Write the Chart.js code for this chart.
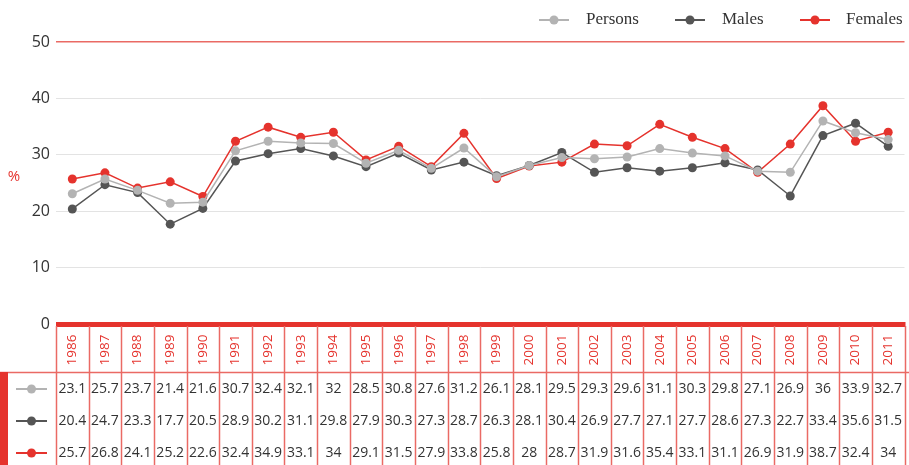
<!DOCTYPE html>
<html>
<head>
<meta charset="utf-8">
<script src="https://cdn.jsdelivr.net/npm/chart.js@4.4.1/dist/chart.umd.min.js"></script>
<style>
  html, body { margin: 0; padding: 0; background: #fff; }
  #wrap { width: 909px; height: 465px; position: relative; }
</style>
</head>
<body>
<div id="wrap"><canvas id="myChart" width="909" height="465"></canvas></div>
<script>
// data
const years = ['1986','1987','1988','1989','1990','1991','1992','1993','1994','1995','1996','1997','1998','1999','2000','2001','2002','2003','2004','2005','2006','2007','2008','2009','2010','2011'];
const persons = [23.1,25.7,23.7,21.4,21.6,30.7,32.4,32.1,32,28.5,30.8,27.6,31.2,26.1,28.1,29.5,29.3,29.6,31.1,30.3,29.8,27.1,26.9,36,33.9,32.7];
const males = [20.4,24.7,23.3,17.7,20.5,28.9,30.2,31.1,29.8,27.9,30.3,27.3,28.7,26.3,28.1,30.4,26.9,27.7,27.1,27.7,28.6,27.3,22.7,33.4,35.6,31.5];
const females = [25.7,26.8,24.1,25.2,22.6,32.4,34.9,33.1,34,29.1,31.5,27.9,33.8,25.8,28,28.7,31.9,31.6,35.4,33.1,31.1,26.9,31.9,38.7,32.4,34];
const yTicks = [0, 10, 20, 30, 40, 50];

const RED = '#e5332d';
const GRID_RED = '#ea6a64';
const sansFont = '"Open Sans", "Noto Sans", sans-serif';
const serifFont = '"Liberation Serif", "DejaVu Serif", serif';

const series = [
    { label: 'Persons', data: persons, color: '#b3b3b3' },
    { label: 'Males', data: males, color: '#555555' },
    { label: 'Females', data: females, color: RED }
];

// legend on top, table below, axis decorations
const tablePlugin = {
    id: 'tablePlugin',
    afterDraw(chart) {
        const ctx = chart.ctx;
        const x = chart.scales.x;
        const area = chart.chartArea;
        const colW = (area.right - area.left) / years.length;
        const top = area.bottom;
        const labelBottom = 372;
        const bottom = 465;
        const rowY = [389, 421, 453];

        ctx.save();

        // thick zero line
        ctx.fillStyle = RED;
        ctx.fillRect(area.left, top - 2, area.right - area.left + 1, 5);

        // "%" label
        ctx.fillStyle = RED;
        ctx.font = '15px ' + sansFont;
        ctx.textAlign = 'center';
        ctx.textBaseline = 'middle';
        ctx.fillText('%', 14, 177);

        // grid lines of the table
        ctx.strokeStyle = GRID_RED;
        ctx.lineWidth = 1.5;
        for (let i = 0; i <= years.length; i++) {
            const lx = Math.round(area.left + i * colW) + 0.5;
            ctx.beginPath();
            ctx.moveTo(lx, top + 2);
            ctx.lineTo(lx, bottom);
            ctx.stroke();
        }
        ctx.beginPath();
        ctx.moveTo(0, labelBottom + 0.5);
        ctx.lineTo(909, labelBottom + 0.5);
        ctx.stroke();

        // red bar at left of table
        ctx.fillStyle = RED;
        ctx.fillRect(0, labelBottom, 8, bottom - labelBottom);

        // rotated year labels
        ctx.fillStyle = RED;
        ctx.font = '13.5px ' + sansFont;
        years.forEach((yr, i) => {
            const cx = x.getPixelForValue(i);
            ctx.save();
            ctx.translate(cx, 350);
            ctx.rotate(-Math.PI / 2);
            ctx.textAlign = 'center';
            ctx.textBaseline = 'middle';
            ctx.fillText(yr, 0, 0);
            ctx.restore();
        });

        // row icons and values
        series.forEach((s, r) => {
            const y = rowY[r];
            ctx.strokeStyle = s.color;
            ctx.lineWidth = 2;
            ctx.beginPath();
            ctx.moveTo(16, y);
            ctx.lineTo(47, y);
            ctx.stroke();
            ctx.fillStyle = s.color;
            ctx.beginPath();
            ctx.arc(31.5, y, 4.5, 0, Math.PI * 2);
            ctx.fill();

            ctx.fillStyle = '#333';
            ctx.font = '14px ' + sansFont;
            ctx.textAlign = 'center';
            ctx.textBaseline = 'middle';
            s.data.forEach((v, i) => {
                ctx.fillText(String(v), x.getPixelForValue(i), y);
            });
        });

        // top legend
        const legendPos = [[539, 586], [675, 722], [800, 846]];
        series.forEach((s, i) => {
            const [ix, tx] = legendPos[i];
            const y = 20;
            ctx.strokeStyle = s.color;
            ctx.lineWidth = 2;
            ctx.beginPath();
            ctx.moveTo(ix, y);
            ctx.lineTo(ix + 30, y);
            ctx.stroke();
            ctx.fillStyle = s.color;
            ctx.beginPath();
            ctx.arc(ix + 15, y, 4.5, 0, Math.PI * 2);
            ctx.fill();
            ctx.fillStyle = '#333';
            ctx.font = '17px ' + serifFont;
            ctx.textAlign = 'left';
            ctx.textBaseline = 'middle';
            ctx.fillText(s.label, tx, y);
        });

        ctx.restore();
    }
};

const ctx = document.getElementById('myChart').getContext('2d');
const myChart = new Chart(ctx, {
    type: 'line',
    data: {
        labels: years,
        datasets: series.map(s => ({
            label: s.label,
            data: s.data,
            borderColor: s.color,
            backgroundColor: s.color,
            borderWidth: 1.5,
            pointRadius: 4.5,
            pointBorderWidth: 0,
            tension: 0
        }))
    },
    options: {
        responsive: false,
        animation: false,
        layout: {
            padding: { top: 42, right: 1, bottom: 141, left: 0 }
        },
        plugins: {
            legend: { display: false },
            tooltip: { enabled: false }
        },
        scales: {
            x: {
                display: false,
                offset: true
            },
            y: {
                min: 0,
                max: 50,
                afterBuildTicks: scale => {
                    scale.ticks = yTicks.map(v => ({ value: v }));
                },
                afterFit: scale => {
                    scale.width = 56;
                },
                border: { display: false },
                grid: {
                    drawTicks: false,
                    color: c => c.tick.value === 50 ? GRID_RED : (c.tick.value === 0 ? 'rgba(0,0,0,0)' : '#e3e3e3'),
                    lineWidth: c => c.tick.value === 50 ? 1.5 : 1
                },
                ticks: {
                    padding: 6,
                    color: '#333',
                    font: { family: sansFont, size: 16 }
                }
            }
        }
    },
    plugins: [tablePlugin]
});
</script>
</body>
</html>
